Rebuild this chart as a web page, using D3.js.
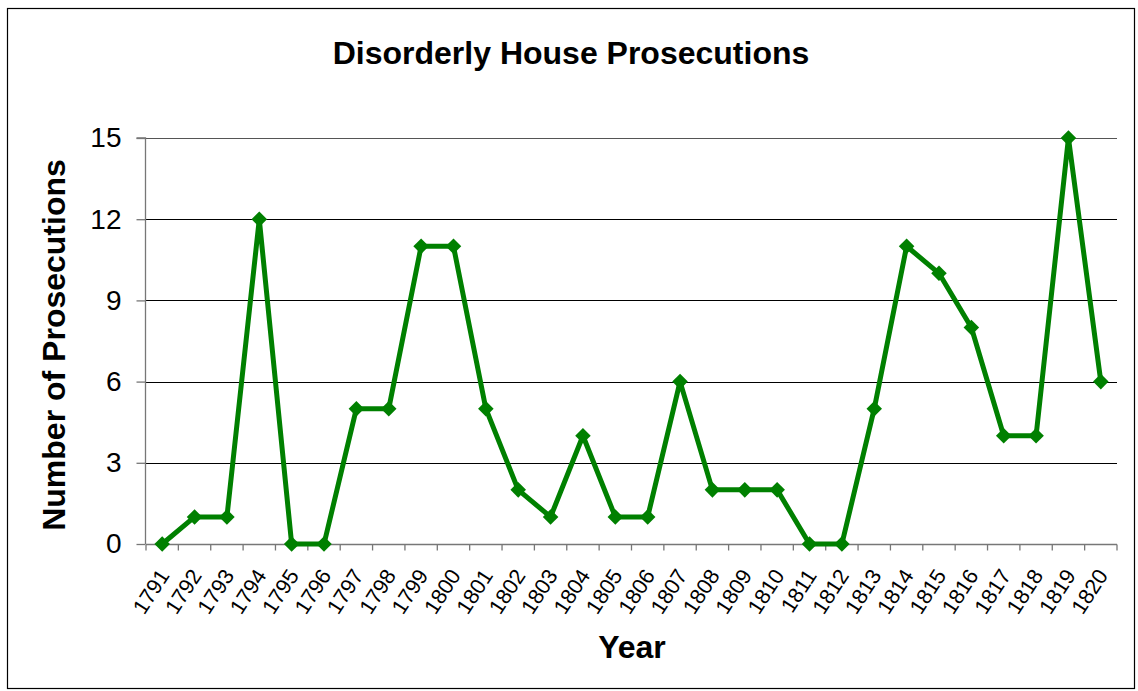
<!DOCTYPE html>
<html><head><meta charset="utf-8">
<script src="https://cdn.jsdelivr.net/npm/d3@7"></script>
<style>body{margin:0;background:#fff;} svg{display:block;font-family:"Liberation Sans",Arial,sans-serif;}</style>
</head><body>
<svg id="c" width="1138" height="691"></svg>
<script>
const years = ["1791","1792","1793","1794","1795","1796","1797","1798","1799","1800","1801","1802","1803","1804","1805","1806","1807","1808","1809","1810","1811","1812","1813","1814","1815","1816","1817","1818","1819","1820"];
const prosecutions = [0,1,1,12,0,0,5,5,11,11,5,2,1,4,1,1,6,2,2,2,0,0,5,11,10,8,4,4,15,6];
const yTicks = [0,3,6,9,12,15];

const svg = d3.select("#c");
svg.append("rect").attr("x",7.5).attr("y",8.5).attr("width",1127).attr("height",680).attr("fill","#fff").attr("stroke","#000").attr("stroke-width",1.2);

const L=146, R=1117, T=138, B=544;
const x = d3.scaleBand().domain(years).range([L,R]);
const y = d3.scaleLinear().domain([0,15]).range([B,T]);
const FF = "Liberation Sans, Arial, sans-serif";

// gridlines
svg.append("g").selectAll("line").data(yTicks.filter(d=>d>0)).join("line")
  .attr("x1",L).attr("x2",R).attr("y1",d=>Math.round(y(d))+0.5).attr("y2",d=>Math.round(y(d))+0.5)
  .attr("stroke",d=>d===15?"#555":"#000").attr("stroke-width",1);

// y axis
const ya = svg.append("g").attr("transform",`translate(${L-0.5},0)`)
  .call(d3.axisLeft(y).tickValues(yTicks).tickSize(9).tickPadding(15));
ya.select(".domain").attr("stroke","#777").attr("stroke-width",1.3).attr("d",`M-9,${T}H0V${B}`);
ya.selectAll(".tick line").attr("stroke","#777").attr("stroke-width",1.3);
ya.selectAll("text").attr("font-size",28).attr("fill","#000").attr("font-family",FF);

// x axis
const xa = svg.append("g").attr("transform",`translate(0,${B+0.5})`)
  .call(d3.axisBottom(x).tickSize(0).tickPadding(0));
xa.select(".domain").attr("stroke","#777").attr("stroke-width",1.3).attr("d",`M${L},0H${R}`);
xa.selectAll(".tick text").remove();
const bounds = years.map(d=>x(d)).concat([R]);
xa.selectAll(".bt").data(bounds).join("line").attr("class","bt")
  .attr("x1",d=>d).attr("x2",d=>d).attr("y1",0).attr("y2",6).attr("stroke","#777").attr("stroke-width",1.3);
xa.selectAll(".lbl").data(years).join("text").attr("class","lbl")
  .attr("transform",d=>`translate(${x(d)+x.bandwidth()/2+8},${31}) rotate(-57)`)
  .attr("text-anchor","end").attr("font-size",21.5).attr("font-family",FF).attr("fill","#000").text(d=>d);

// line
const pts = years.map((d,i)=>[x(d)+x.bandwidth()/2, y(prosecutions[i])]);
svg.append("path").attr("d",d3.line()(pts)).attr("fill","none").attr("stroke","#008000").attr("stroke-width",5).attr("stroke-linejoin","round");
svg.append("g").selectAll("path").data(pts).join("path")
  .attr("d",d3.symbol(d3.symbolSquare,121)()).attr("transform",d=>`translate(${d[0]},${d[1]}) rotate(45)`)
  .attr("fill","#008000");

// titles
svg.append("text").attr("x",571).attr("y",64).attr("text-anchor","middle").attr("font-size",32).attr("font-weight","bold").attr("font-family",FF).text("Disorderly House Prosecutions");
svg.append("text").attr("x",632).attr("y",658).attr("text-anchor","middle").attr("font-size",32).attr("font-weight","bold").attr("font-family",FF).text("Year");
svg.append("text").attr("transform",`translate(65,345) rotate(-90)`).attr("text-anchor","middle").attr("font-size",32).attr("font-weight","bold").attr("font-family",FF).text("Number of Prosecutions");
</script>
</body></html>
